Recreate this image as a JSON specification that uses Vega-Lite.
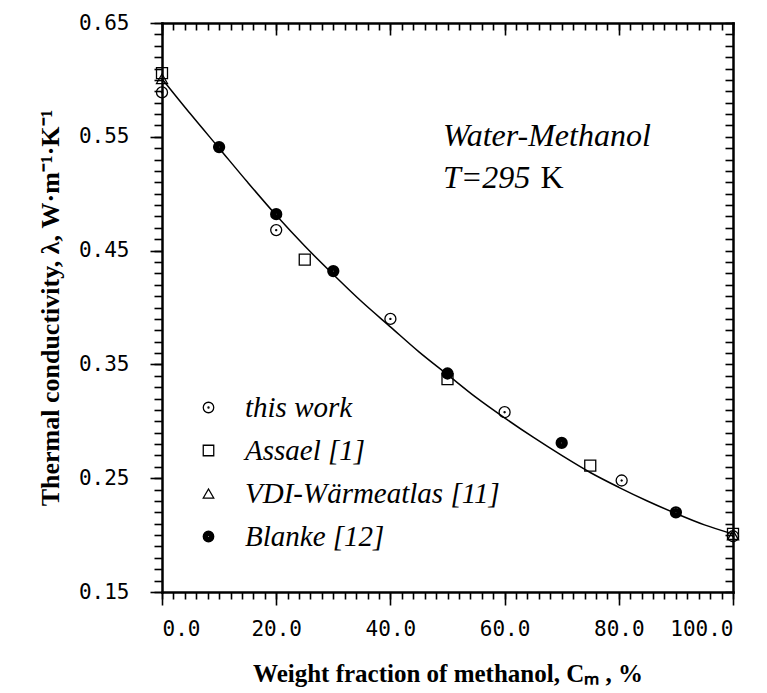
{
  "$schema": "https://vega.github.io/schema/vega-lite/v6.json",
  "width": 571,
  "height": 569,
  "autosize": {"type": "none"},
  "padding": {"left": 162, "top": 23, "right": 34, "bottom": 101},
  "background": "white",
  "config": {
    "view": {"stroke": null},
    "axis": {"grid": false, "domainColor": "black", "tickColor": "black", "labelColor": "black", "titleColor": "black", "domainWidth": 2.5, "tickWidth": 1.6, "domainCap": "square"}
  },
  "datasets": {
    "fit": [
      {"c": 0, "l": 0.601}, {"c": 5, "l": 0.570}, {"c": 10, "l": 0.540}, {"c": 15, "l": 0.510},
      {"c": 20, "l": 0.481}, {"c": 25, "l": 0.454}, {"c": 30, "l": 0.429}, {"c": 35, "l": 0.405},
      {"c": 40, "l": 0.383}, {"c": 45, "l": 0.361}, {"c": 50, "l": 0.341}, {"c": 55, "l": 0.321},
      {"c": 60, "l": 0.303}, {"c": 65, "l": 0.286}, {"c": 70, "l": 0.270}, {"c": 75, "l": 0.255},
      {"c": 80, "l": 0.242}, {"c": 85, "l": 0.230}, {"c": 90, "l": 0.219}, {"c": 95, "l": 0.209},
      {"c": 100, "l": 0.201}
    ],
    "meas": [
      {"c": 0, "l": 0.589, "source": "this work"},
      {"c": 20, "l": 0.468, "source": "this work"},
      {"c": 40, "l": 0.390, "source": "this work"},
      {"c": 60, "l": 0.308, "source": "this work"},
      {"c": 80.5, "l": 0.248, "source": "this work"},
      {"c": 100, "l": 0.199, "source": "this work"},
      {"c": 0, "l": 0.606, "source": "Assael [1]"},
      {"c": 25, "l": 0.442, "source": "Assael [1]"},
      {"c": 50, "l": 0.337, "source": "Assael [1]"},
      {"c": 75, "l": 0.261, "source": "Assael [1]"},
      {"c": 100, "l": 0.201, "source": "Assael [1]"},
      {"c": 0, "l": 0.601, "source": "VDI-Wärmeatlas [11]"},
      {"c": 100, "l": 0.200, "source": "VDI-Wärmeatlas [11]"},
      {"c": 10, "l": 0.541, "source": "Blanke [12]"},
      {"c": 20, "l": 0.482, "source": "Blanke [12]"},
      {"c": 30, "l": 0.432, "source": "Blanke [12]"},
      {"c": 50, "l": 0.342, "source": "Blanke [12]"},
      {"c": 70, "l": 0.281, "source": "Blanke [12]"},
      {"c": 90, "l": 0.220, "source": "Blanke [12]"}
    ],
    "notes": [
      {"c": 49.2, "l": 0.542, "t": "Water-Methanol", "kind": "italic"},
      {"c": 49.2, "l": 0.505, "t": "T=295", "kind": "italic"},
      {"c": 66.3, "l": 0.505, "t": "K", "kind": "normal"}
    ]
  },
  "resolve": {"axis": {"x": "independent", "y": "independent"}},
  "layer": [
    {
      "data": {"name": "fit"},
      "mark": {"type": "line", "color": "black", "strokeWidth": 1.5, "interpolate": "monotone"},
      "encoding": {
        "x": {"field": "c", "type": "quantitative", "scale": {"domain": [0, 100], "nice": false, "zero": false},
          "axis": {"orient": "bottom", "values": [0, 20, 40, 60, 80, 100], "format": ".1f", "tickSize": 13,
            "labelPadding": 13, "labelFont": "DejaVu Sans Mono", "labelFontSize": 21,
            "title": "Weight fraction of methanol, Cₘ ,  %", "titleFont": "Liberation Serif", "titleFontWeight": "bold", "titleFontSize": 25, "titlePadding": 22}},
        "y": {"field": "l", "type": "quantitative", "scale": {"domain": [0.15, 0.65], "nice": false, "zero": false},
          "axis": {"orient": "left", "values": [0.15, 0.25, 0.35, 0.45, 0.55, 0.65], "format": ".2f", "tickSize": 12,
            "labelPadding": 21, "labelFont": "DejaVu Sans Mono", "labelFontSize": 21,
            "title": "Thermal conductivity, λ,  W·m⁻¹·K⁻¹", "titleFont": "Liberation Serif", "titleFontWeight": "bold", "titleFontSize": 26, "titlePadding": 15}}
      }
    },
    {
      "data": {"name": "meas"},
      "mark": {"type": "point", "size": 121, "opacity": 1, "filled": false, "color": "black", "strokeWidth": 1.3},
      "encoding": {
        "x": {"field": "c", "type": "quantitative", "scale": {"domain": [0, 100], "nice": false, "zero": false},
          "axis": {"orient": "bottom", "values": [0,2,4,6,8,10,12,14,16,18,20,22,24,26,28,30,32,34,36,38,40,42,44,46,48,50,52,54,56,58,60,62,64,66,68,70,72,74,76,78,80,82,84,86,88,90,92,94,96,98,100],
            "tickSize": 7, "labels": false, "domain": false, "title": null}},
        "y": {"field": "l", "type": "quantitative", "scale": {"domain": [0.15, 0.65], "nice": false, "zero": false},
          "axis": {"orient": "left", "values": [0.15,0.16,0.17,0.18,0.19,0.2,0.21,0.22,0.23,0.24,0.25,0.26,0.27,0.28,0.29,0.3,0.31,0.32,0.33,0.34,0.35,0.36,0.37,0.38,0.39,0.4,0.41,0.42,0.43,0.44,0.45,0.46,0.47,0.48,0.49,0.5,0.51,0.52,0.53,0.54,0.55,0.56,0.57,0.58,0.59,0.6,0.61,0.62,0.63,0.64,0.65],
            "tickSize": 8, "labels": false, "domain": false, "title": null}},
        "shape": {"field": "source", "type": "nominal",
          "scale": {"domain": ["this work", "Assael [1]", "VDI-Wärmeatlas [11]", "Blanke [12]"],
            "range": [
              "M-1,0A1,1 0 1,0 1,0A1,1 0 1,0 -1,0ZM-0.1,0A0.1,0.1 0 1,0 0.1,0A0.1,0.1 0 1,0 -0.1,0Z",
              "square",
              "triangle-up",
              "M-1,0A1,1 0 1,0 1,0A1,1 0 1,0 -1,0ZM-0.8,0A0.8,0.8 0 1,0 0.8,0A0.8,0.8 0 1,0 -0.8,0ZM-0.6,0A0.6,0.6 0 1,0 0.6,0A0.6,0.6 0 1,0 -0.6,0ZM-0.4,0A0.4,0.4 0 1,0 0.4,0A0.4,0.4 0 1,0 -0.4,0ZM-0.2,0A0.2,0.2 0 1,0 0.2,0A0.2,0.2 0 1,0 -0.2,0ZM-0.05,0A0.05,0.05 0 1,0 0.05,0A0.05,0.05 0 1,0 -0.05,0Z"
            ]},
          "legend": {"orient": "none", "legendX": 32, "legendY": 370, "title": null, "padding": 0,
            "labelFont": "Liberation Serif", "labelFontStyle": "italic", "labelFontSize": 29, "labelColor": "black", "labelLimit": 0,
            "symbolSize": 110, "symbolStrokeColor": "black", "symbolStrokeWidth": 1.3, "rowPadding": 13, "labelOffset": 22}}
      }
    },
    {
      "data": {"name": "notes"},
      "transform": [{"filter": "datum.kind == 'italic'"}],
      "mark": {"type": "text", "align": "left", "baseline": "alphabetic", "font": "Liberation Serif", "fontStyle": "italic", "fontSize": 32, "color": "black"},
      "encoding": {
        "x": {"field": "c", "type": "quantitative", "scale": {"domain": [0, 100], "nice": false, "zero": false},
          "axis": {"orient": "top", "values": [0, 20, 40, 60, 80, 100], "tickSize": -12, "labels": false, "domain": true, "title": null}},
        "y": {"field": "l", "type": "quantitative", "scale": {"domain": [0.15, 0.65], "nice": false, "zero": false},
          "axis": {"orient": "right", "values": [0.15,0.16,0.17,0.18,0.19,0.2,0.21,0.22,0.23,0.24,0.25,0.26,0.27,0.28,0.29,0.3,0.31,0.32,0.33,0.34,0.35,0.36,0.37,0.38,0.39,0.4,0.41,0.42,0.43,0.44,0.45,0.46,0.47,0.48,0.49,0.5,0.51,0.52,0.53,0.54,0.55,0.56,0.57,0.58,0.59,0.6,0.61,0.62,0.63,0.64,0.65],
            "tickSize": -8, "labels": false, "domain": true, "title": null}},
        "text": {"field": "t"}
      }
    },
    {
      "data": {"name": "notes"},
      "transform": [{"filter": "datum.kind == 'normal'"}],
      "mark": {"type": "text", "align": "left", "baseline": "alphabetic", "font": "Liberation Serif", "fontSize": 32, "color": "black"},
      "encoding": {
        "x": {"field": "c", "type": "quantitative", "scale": {"domain": [0, 100], "nice": false, "zero": false},
          "axis": {"orient": "top", "values": [0,2,4,6,8,10,12,14,16,18,20,22,24,26,28,30,32,34,36,38,40,42,44,46,48,50,52,54,56,58,60,62,64,66,68,70,72,74,76,78,80,82,84,86,88,90,92,94,96,98,100],
            "tickSize": -7, "labels": false, "domain": false, "title": null}},
        "y": {"field": "l", "type": "quantitative", "scale": {"domain": [0.15, 0.65], "nice": false, "zero": false}, "axis": null},
        "text": {"field": "t"}
      }
    }
  ]
}
